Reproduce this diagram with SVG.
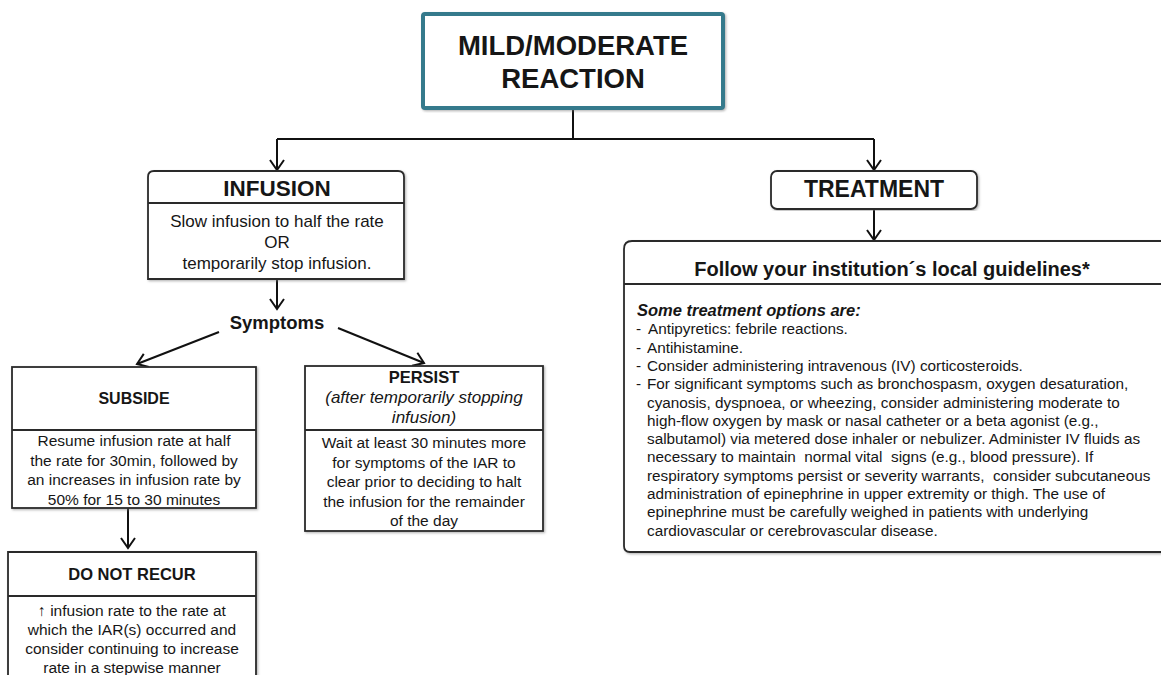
<svg xmlns="http://www.w3.org/2000/svg" width="1161" height="675" viewBox="0 0 1161 675">
<defs>
<style>
text{font-family:"Liberation Sans",Arial,sans-serif;fill:#161616;}
.c{text-anchor:middle;}
.b{font-weight:bold;}
.i{font-style:italic;}
.box{fill:#ffffff;stroke:#2a2a2a;stroke-width:1.8;filter:url(#sh);}
.div{stroke:#2a2a2a;stroke-width:1.8;fill:none;}
.conn{stroke:#111111;stroke-width:2;fill:none;}
.bd{font-size:15.5px;}
.gl{font-size:15.3px;white-space:pre;}
</style>
<filter id="sh" x="-5%" y="-5%" width="110%" height="110%">
<feDropShadow dx="1.2" dy="1.2" stdDeviation="0.8" flood-color="#777777" flood-opacity="0.55"/>
</filter>
<marker id="arr" viewBox="-12 -9 14 18" refX="0" refY="0" markerWidth="14" markerHeight="18" markerUnits="userSpaceOnUse" orient="auto">
<path d="M-10,-7 L0,0 L-10,7" fill="none" stroke="#111111" stroke-width="2"/>
</marker>
</defs>
<rect width="1161" height="675" fill="#ffffff"/>

<g id="connectors">
<path class="conn" d="M573,108 L573,139"/>
<path class="conn" d="M277,139 L874,139"/>
<path class="conn" d="M277,139 L277,170" marker-end="url(#arr)"/>
<path class="conn" d="M874,139 L874,170" marker-end="url(#arr)"/>
<path class="conn" d="M874,209 L874,240" marker-end="url(#arr)"/>
<path class="conn" d="M277,279 L277,309" marker-end="url(#arr)"/>
<path class="conn" d="M219,332 L137,364" marker-end="url(#arr)"/>
<path class="conn" d="M338,328 L424,363" marker-end="url(#arr)"/>
<path class="conn" d="M128,508 L128,548" marker-end="url(#arr)"/>
</g>

<g id="mild-moderate">
<rect x="423" y="14" width="300" height="94" rx="2" fill="#ffffff" stroke="#347a8c" stroke-width="4" filter="url(#sh)"/>
<text class="c b" x="573" y="55" font-size="27.5">MILD/MODERATE</text>
<text class="c b" x="573" y="88" font-size="27.5">REACTION</text>
</g>

<g id="infusion">
<path class="box" d="M148,279 L148,177 Q148,171 154,171 L398,171 Q404,171 404,177 L404,279 Z"/>
<line class="div" x1="148" y1="203" x2="404" y2="203"/>
<text class="c b" x="277" y="196" font-size="22.5">INFUSION</text>
<text class="c" x="277" y="227" font-size="17">Slow infusion to half the rate</text>
<text class="c" x="277" y="248" font-size="17">OR</text>
<text class="c" x="277" y="269" font-size="17">temporarily stop infusion.</text>
</g>

<g id="symptoms">
<text class="c b" x="277" y="329" font-size="18.5">Symptoms</text>
</g>

<g id="subside">
<rect class="box" x="12" y="367" width="244" height="141"/>
<line class="div" x1="12" y1="430" x2="256" y2="430"/>
<text class="c b" x="134" y="404" font-size="16">SUBSIDE</text>
<text class="c bd" x="134" y="446">Resume infusion rate at half</text>
<text class="c bd" x="134" y="465.5">the rate for 30min, followed by</text>
<text class="c bd" x="134" y="485">an increases in infusion rate by</text>
<text class="c bd" x="134" y="504.5">50% for 15 to 30 minutes</text>
</g>

<g id="persist">
<rect class="box" x="305" y="366" width="238" height="165"/>
<line class="div" x1="305" y1="430" x2="543" y2="430"/>
<text class="c b" x="424" y="383" font-size="16.5">PERSIST</text>
<text class="c i" x="424" y="403" font-size="17">(after temporarily stopping</text>
<text class="c i" x="424" y="423" font-size="17">infusion)</text>
<text class="c bd" x="424" y="448">Wait at least 30 minutes more</text>
<text class="c bd" x="424" y="467.5">for symptoms of the IAR to</text>
<text class="c bd" x="424" y="487">clear prior to deciding to halt</text>
<text class="c bd" x="424" y="506.5">the infusion for the remainder</text>
<text class="c bd" x="424" y="526">of the day</text>
</g>

<g id="do-not-recur">
<path class="box" d="M8,690 L8,552 L256,552 L256,690"/>
<line class="div" x1="8" y1="596" x2="256" y2="596"/>
<text class="c b" x="132" y="580" font-size="16.5">DO NOT RECUR</text>
<text class="c bd" x="132" y="616">↑ infusion rate to the rate at</text>
<text class="c bd" x="132" y="635">which the IAR(s) occurred and</text>
<text class="c bd" x="132" y="654">consider continuing to increase</text>
<text class="c bd" x="132" y="673">rate in a stepwise manner</text>
</g>

<g id="treatment">
<rect class="box" x="771" y="171" width="206" height="38" rx="6"/>
<text class="c b" x="874" y="197" font-size="23">TREATMENT</text>
</g>

<g id="guidelines">
<path class="box" d="M1170,241 L632,241 Q624,241 624,249 L624,546 Q624,552 630,552 L1170,552"/>
<line class="div" x1="624" y1="284" x2="1170" y2="284"/>
<text class="c b" x="892" y="276" font-size="20">Follow your institution´s local guidelines*</text>
<text class="b i" x="637" y="316" font-size="16.5">Some treatment options are:</text>
<text class="gl" x="636" y="334.3">-</text><text class="gl" x="648" y="334.3">Antipyretics: febrile reactions.</text>
<text class="gl" x="636" y="352.6">-</text><text class="gl" x="647" y="352.6">Antihistamine.</text>
<text class="gl" x="636" y="370.9">-</text><text class="gl" x="647" y="370.9">Consider administering intravenous (IV) corticosteroids.</text>
<text class="gl" x="636" y="389.2">-</text><text class="gl" x="647" y="389.2">For significant symptoms such as bronchospasm, oxygen desaturation,</text>
<text class="gl" x="647" y="407.5">cyanosis, dyspnoea, or wheezing, consider administering moderate to</text>
<text class="gl" x="647" y="425.8">high-flow oxygen by mask or nasal catheter or a beta agonist (e.g.,</text>
<text class="gl" x="647" y="444.1">salbutamol) via metered dose inhaler or nebulizer. Administer IV fluids as</text>
<text class="gl" x="647" y="462.4" xml:space="preserve">necessary to maintain  normal vital  signs (e.g., blood pressure). If</text>
<text class="gl" x="647" y="480.7" xml:space="preserve">respiratory symptoms persist or severity warrants,  consider subcutaneous</text>
<text class="gl" x="647" y="499">administration of epinephrine in upper extremity or thigh. The use of</text>
<text class="gl" x="647" y="517.3">epinephrine must be carefully weighed in patients with underlying</text>
<text class="gl" x="647" y="535.6">cardiovascular or cerebrovascular disease.</text>
</g>
</svg>
